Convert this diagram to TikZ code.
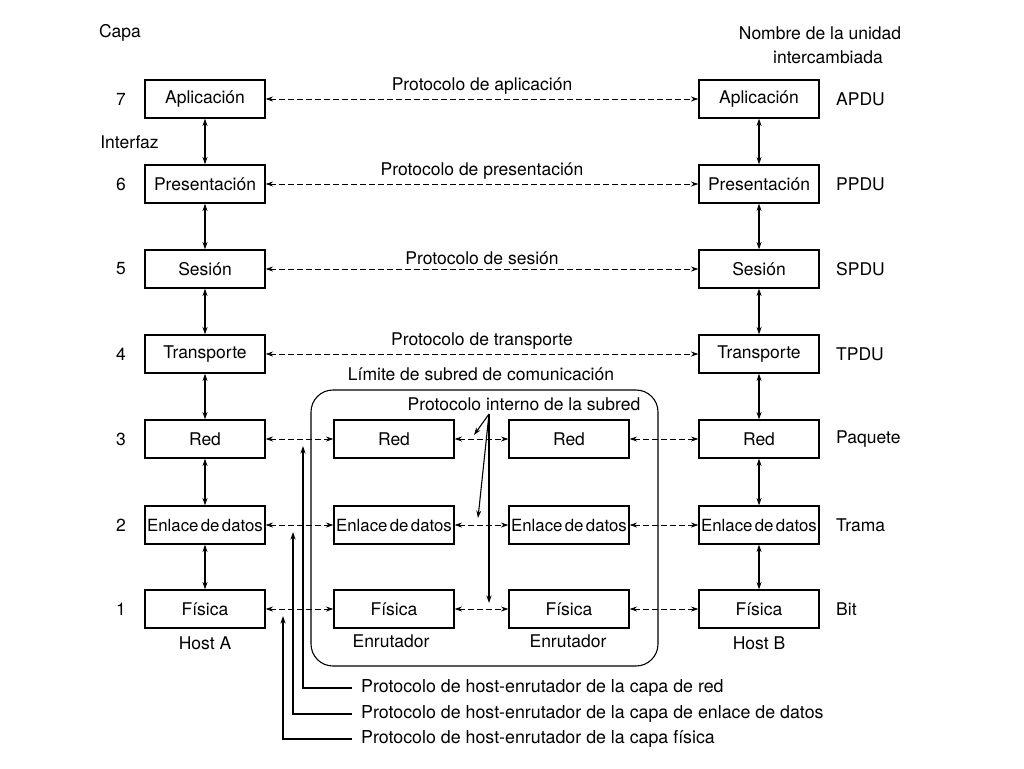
\documentclass[tikz,border=0pt]{standalone}
\usepackage{fontspec}
\setmainfont{TeX Gyre Heros}
\usetikzlibrary{arrows.meta}
\newcommand\enlacetxt{{\spaceskip=0.14em plus 0.05em\relax Enlace de datos}}
\begin{document}
\begin{tikzpicture}[x=1pt,y=-1pt,
  txt/.style={font=\fontsize{17.5}{20}\selectfont, inner sep=1pt},
  legtxt/.style={font=\fontsize{17.8}{20}\selectfont, inner sep=1pt},
  layerbox/.style={draw, line width=1.1pt, minimum width=120pt, minimum height=38pt, inner sep=0pt, font=\fontsize{17.5}{20}\selectfont},
  tightbox/.style={layerbox, font=\fontsize{16.8}{20}\selectfont},
  solidarr/.style={line width=1.1pt, {Stealth[length=7.5pt,width=5pt]}-{Stealth[length=7.5pt,width=5pt]}},
  dasharr/.style={line width=0.9pt, dash pattern=on 5.5pt off 3.5pt, {Stealth[length=7.5pt,width=5pt]}-{Stealth[length=7.5pt,width=5pt]}},
  onearr/.style={line width=1.1pt, -{Stealth[length=7.5pt,width=5pt]}},
  subnet/.style={draw, line width=1.1pt, rounded corners=22pt, minimum width=347pt, minimum height=276pt, inner sep=0pt}
]
\useasboundingbox (0,0) rectangle (1024,768);

% subnet boundary
\node[subnet] (sub) at (484.5,528) {};
\node[txt] (limite) at (481,374) {Límite de subred de comunicación};

% header
\node[txt] (capa) at (120,33) {Capa};
\node[txt] (nombre1) at (820,33) {Nombre de la unidad};
\node[txt] (nombre2) at (828,57) {intercambiada};
\node[txt] (interfaz) at (129.5,142) {Interfaz};

% layer numbers and units
\foreach \n/\y/\u in {7/99/APDU, 6/184/PPDU, 5/269/SPDU, 4/354/TPDU, 3/439/Paquete, 2/525/Trama, 1/609/Bit}{
  \node[txt] (num\n) at (121,\y) {\n};
  \node[txt, anchor=west] (unit\n) at (835,\y) {\u};
}

% host A
\node[layerbox] (A7) at (205,99) {Aplicación};
\node[layerbox] (A6) at (205,184) {Presentación};
\node[layerbox] (A5) at (205,269) {Sesión};
\node[layerbox] (A4) at (205,354) {Transporte};
\node[layerbox] (A3) at (205,439) {Red};
\node[tightbox] (A2) at (205,525) {\enlacetxt};
\node[layerbox] (A1) at (205,609) {Física};
\node[txt] (hostA) at (205,643) {Host A};

% host B
\node[layerbox] (B7) at (759,99) {Aplicación};
\node[layerbox] (B6) at (759,184) {Presentación};
\node[layerbox] (B5) at (759,269) {Sesión};
\node[layerbox] (B4) at (759,354) {Transporte};
\node[layerbox] (B3) at (759,439) {Red};
\node[tightbox] (B2) at (759,525) {\enlacetxt};
\node[layerbox] (B1) at (759,609) {Física};
\node[txt] (hostB) at (759,643) {Host B};

% routers
\node[layerbox] (R3) at (394,439) {Red};
\node[tightbox] (R2) at (394,525) {\enlacetxt};
\node[layerbox] (R1) at (394,609) {Física};
\node[txt] (enr1) at (391,641) {Enrutador};
\node[layerbox] (S3) at (569,439) {Red};
\node[tightbox] (S2) at (569,525) {\enlacetxt};
\node[layerbox] (S1) at (569,609) {Física};
\node[txt] (enr2) at (568,641) {Enrutador};

% vertical interfaces
\foreach \h in {A,B}{
  \draw[solidarr] (\h7) -- (\h6);
  \draw[solidarr] (\h6) -- (\h5);
  \draw[solidarr] (\h5) -- (\h4);
  \draw[solidarr] (\h4) -- (\h3);
  \draw[solidarr] (\h3) -- (\h2);
  \draw[solidarr] (\h2) -- (\h1);
}

% peer protocols
\draw[dasharr] (A7) -- node[txt, above=3pt] (p7) {Protocolo de aplicación} (B7);
\draw[dasharr] (A6) -- node[txt, above=3pt] (p6) {Protocolo de presentación} (B6);
\draw[dasharr] (A5) -- node[txt, above=3pt] (p5) {Protocolo de sesión} (B5);
\draw[dasharr] (A4) -- node[txt, above=3pt] (p4) {Protocolo de transporte} (B4);
\foreach \r in {3,2,1}{
  \draw[dasharr] (A\r) -- (R\r);
  \draw[dasharr] (R\r) -- (S\r);
  \draw[dasharr] (S\r) -- (B\r);
}

% internal subnet protocol
\node[txt] (interno) at (524,404) {Protocolo interno de la subred};
\coordinate (fan) at (489,414);
\coordinate (t3) at (474,435);
\coordinate (t2) at (478,518);
\coordinate (t1) at (489,603);
\draw[onearr] (fan) -- (t3);
\draw[onearr] (fan) -- (t2);
\draw[onearr] (fan) -- (t1);

% host-router protocols legend
\node[legtxt, anchor=west, inner xsep=9pt] (legR) at (352,688) {Protocolo de host-enrutador de la capa de red};
\node[legtxt, anchor=west, inner xsep=9pt] (legE) at (352,714) {Protocolo de host-enrutador de la capa de enlace de datos};
\node[legtxt, anchor=west, inner xsep=9pt] (legF) at (352,739) {Protocolo de host-enrutador de la capa física};
\coordinate (hR) at (303,446);
\coordinate (hE) at (293,532);
\coordinate (hF) at (283,616);
\draw[onearr] (legR.west) -| (hR);
\draw[onearr] (legE.west) -| (hE);
\draw[onearr] (legF.west) -| (hF);
\end{tikzpicture}
\end{document}
